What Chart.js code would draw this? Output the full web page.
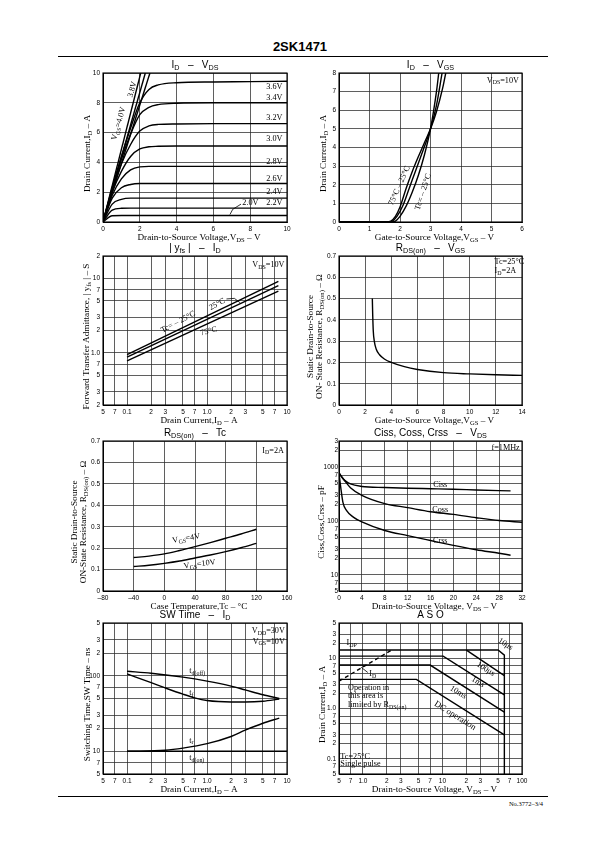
<!DOCTYPE html>
<html><head><meta charset="utf-8"><title>2SK1471</title>
<script src="https://cdn.jsdelivr.net/npm/chart.js@4.4.1/dist/chart.umd.min.js"></script>
<style>
html,body{margin:0;padding:0;background:#fff}
body{position:relative;width:595px;height:842px;overflow:hidden}
canvas{position:absolute}
.hdr{position:absolute;left:0;width:600px;top:39px;text-align:center;font:bold 13px "Liberation Sans",Arial,sans-serif;line-height:16px}
.rule{position:absolute;left:58px;width:490px;background:#000}
.ftr{position:absolute;right:52px;top:799px;font:6.5px "Liberation Serif",serif;line-height:10px}
</style></head><body>
<div class="hdr">2SK1471</div>
<div class="rule" style="top:56px;height:1.4px"></div>
<div class="rule" style="top:796px;height:0.8px"></div>
<div class="ftr">No.3772–3/4</div>
<script>
// ================= DATA =================
// Panel 1 : ID - VDS
const p1VdsGrid = [0, 0.5, 1, 1.5, 2, 2.5, 3, 4, 6, 8, 10];
const p1Id20 = [0, 0.42, 0.44, 0.44, 0.44, 0.44, 0.44, 0.44, 0.44, 0.44, 0.44];
const p1Id22 = [0, 0.8, 0.92, 0.93, 0.93, 0.93, 0.93, 0.93, 0.93, 0.93, 0.93];
const p1Id24 = [0, 1.2, 1.52, 1.6, 1.6, 1.6, 1.6, 1.6, 1.6, 1.6, 1.6];
const p1Id26 = [0, 1.6, 2.3, 2.52, 2.58, 2.58, 2.58, 2.58, 2.58, 2.58, 2.58];
const p1Id28 = [0, 1.8, 2.9, 3.5, 3.7, 3.73, 3.73, 3.73, 3.73, 3.73, 3.73];
const p1Id30 = [0, 2.0, 3.4, 4.4, 4.9, 5.05, 5.08, 5.1, 5.1, 5.1, 5.1];
const p1Id32 = [0, 2.1, 3.9, 5.2, 6.1, 6.45, 6.55, 6.58, 6.6, 6.6, 6.6];
const p1Id34 = [0, 2.2, 4.2, 5.9, 7.2, 7.7, 7.88, 7.97, 8.0, 8.0, 8.0];
const p1Id36 = [0, 2.3, 4.4, 6.3, 8.0, 8.9, 9.2, 9.35, 9.4, 9.42, 9.45];
const p1Vds40 = [0, 2.05], p1Id40 = [0, 10];
const p1Vds38 = [0, 2.3],  p1Id38 = [0, 10];
const p1VdsC  = [0, 2.55], p1IdC  = [0, 10];
const p1XTicks = [0, 2, 4, 6, 8, 10], p1XLabels = ['0','2','4','6','8','10'];
const p1YTicks = [0, 2, 4, 6, 8, 10], p1YLabels = ['0','2','4','6','8','10'];

// Panel 2 : ID - VGS
const p2Vgs75 = [0, 1.55, 1.7, 1.85, 2.0, 2.2, 2.4, 2.6, 2.8, 3.0, 3.2, 3.4, 3.5];
const p2Id75  = [0, 0, 0.05, 0.3, 0.8, 1.8, 2.7, 3.5, 4.25, 5.0, 5.95, 7.2, 8.0];
const p2Vgs25 = [0, 1.6, 1.75, 1.9, 2.1, 2.3, 2.5, 2.7, 2.9, 3.0, 3.2, 3.38];
const p2Id25  = [0, 0, 0.05, 0.3, 0.9, 1.8, 2.7, 3.6, 4.5, 5.0, 6.3, 8.0];
const p2VgsM25 = [0, 1.7, 1.85, 2.0, 2.2, 2.4, 2.6, 2.8, 3.0, 3.1, 3.2, 3.27];
const p2IdM25  = [0, 0, 0.05, 0.3, 0.85, 1.6, 2.5, 3.6, 5.0, 5.95, 7.05, 8.0];
const p2XTicks = [0,1,2,3,4,5,6], p2XLabels = ['0','1','2','3','4','5','6'];
const p2YTicks = [0,1,2,3,4,5,6,7,8], p2YLabels = ['0','1','2','3','4','5','6','7','8'];

// Panel 3 : |yfs| - ID
const p3Id = [0.1, 7.8];
const p3YfsM25 = [0.95, 9.1];
const p3Yfs25  = [0.88, 8.0];
const p3Yfs75  = [0.78, 6.75];
const logIdTicks  = [0.05,0.07,0.1,0.2,0.3,0.5,0.7,1,2,3,5,7,10];
const logIdLabels = ['5','7','0.1','2','3','5','7','1.0','2','3','5','7','10'];
const p3YTicks  = [0.2,0.3,0.5,0.7,1,2,3,5,7,10,20];
const p3YLabels = ['2','3','5','7','1.0','2','3','5','7','10','2'];

// Panel 4 : RDS(on) - VGS
const p4Vgs = [2.55, 2.58, 2.62, 2.7, 2.85, 3.1, 3.5, 4, 5, 6, 8, 10, 12, 14];
const p4Rds = [0.5, 0.42, 0.35, 0.3, 0.262, 0.236, 0.215, 0.2, 0.18, 0.167, 0.152, 0.146, 0.142, 0.139];
const p4XTicks = [0,2,4,6,8,10,12,14], p4XLabels = ['0','2','4','6','8','10','12','14'];
const rTicks = [0,0.1,0.2,0.3,0.4,0.5,0.6,0.7], rLabels = ['0','0.1','0.2','0.3','0.4','0.5','0.6','0.7'];

// Panel 5 : RDS(on) - Tc
const p5Tc = [-40, -20, 0, 20, 40, 60, 80, 100, 120];
const p5R4  = [0.156, 0.163, 0.173, 0.189, 0.207, 0.226, 0.246, 0.266, 0.288];
const p5R10 = [0.114, 0.12, 0.129, 0.14, 0.154, 0.168, 0.184, 0.202, 0.222];
const p5XTicks = [-80,-40,0,40,80,120,160], p5XLabels = ['–80','–40','0','40','80','120','160'];

// Panel 6 : Ciss, Coss, Crss - VDS
const p6VCiss = [0, 0.5, 1, 2, 4, 8, 12, 16, 20, 24, 30];
const p6Ciss  = [760, 640, 560, 480, 432, 412, 400, 392, 384, 372, 357];
const p6VCoss = [0, 0.5, 1, 2, 4, 8, 12, 16, 20, 24, 28, 32];
const p6Coss  = [780, 650, 550, 410, 296, 208, 175, 147, 131, 114, 101, 94];
const p6VCrss = [0, 0.3, 0.7, 1.3, 2.5, 4, 8, 12, 16, 20, 24, 28, 30];
const p6Crss  = [760, 420, 216, 155, 117, 95, 66, 53, 43, 35, 29, 25, 23];
const p6XTicks = [0,4,8,12,16,20,24,28,32], p6XLabels = ['0','4','8','12','16','20','24','28','32'];
const p6YTicks  = [5,7,10,20,30,50,70,100,200,300,500,700,1000,2000,3000];
const p6YLabels = ['5','7','10','2','3','5','7','100','2','3','5','7','1000','2','3'];

// Panel 7 : SW Time - ID
const p7IdOff = [0.1, 0.2, 0.5, 1, 2, 3, 5, 8];
const p7TdOff = [115, 108, 96, 85, 73, 65, 56, 50];
const p7IdF = [0.1, 0.2, 0.3, 0.5, 0.7, 1, 2, 3, 5, 8];
const p7Tf  = [106, 81, 69, 57, 51, 47, 45, 45, 46, 49];
const p7IdR = [0.1, 0.3, 0.5, 1, 2, 3, 5, 8];
const p7Tr  = [10, 10.3, 11, 12.6, 15.7, 19, 23.5, 27.5];
const p7IdOn = [0.1, 10];
const p7TdOn = [10, 10];
const p7YTicks  = [5,7,10,20,30,50,70,100,200,300,500];
const p7YLabels = ['5','7','10','2','3','5','7','100','2','3','5'];

// Panel 8 : ASO
const p8V10us = [0.5, 50, 60, 60],  p8I10us = [14.5, 14.5, 11.5, 0.05];
const p8V100us = [20, 60],          p8I100us = [14.5, 4.5];
const p8V1ms = [0.5, 10.2, 60],     p8I1ms = [11, 11, 1.87];
const p8V10ms = [0.5, 7, 60],       p8I10ms = [7.3, 7.3, 0.85];
const p8VDc = [0.5, 4.7, 60],       p8IDc = [3.8, 3.8, 0.3];
const p8VRds = [0.5, 2.3],          p8IRds = [3.5, 14.5];
const p8XTicks  = [0.5,0.7,1,2,3,5,7,10,20,30,50,70,100];
const p8XLabels = ['5','7','1.0','2','3','5','7','10','2','3','5','7','100'];
const p8YTicks  = [0.05,0.07,0.1,0.2,0.3,0.5,0.7,1,2,3,5,7,10,20,30,50];
const p8YLabels = ['5','7','0.1','2','3','5','7','1.0','2','3','5','7','10','2','3','5'];

// ================= DRAWING =================
const SERIF = '"Liberation Serif","Times New Roman",serif';
const SANS = '"Liberation Sans",Arial,sans-serif';

function parseRich(s){
  const out=[]; const re=/_\{([^}]*)\}/g; let last=0, m;
  while((m=re.exec(s))){ if(m.index>last) out.push({t:s.slice(last,m.index),sub:false}); out.push({t:m[1],sub:true}); last=re.lastIndex; }
  if(last<s.length) out.push({t:s.slice(last),sub:false});
  return out;
}
function drawRich(ctx,s,x,y,o){
  o=o||{}; const size=o.size||8, fam=o.family||SERIF, sub=size*0.72;
  const segs=parseRich(s);
  ctx.save(); ctx.translate(x,y); if(o.rot) ctx.rotate(o.rot*Math.PI/180);
  ctx.textBaseline='middle'; ctx.textAlign='left'; ctx.fillStyle='#000';
  let w=0; segs.forEach(g=>{ctx.font=(g.sub?sub:size)+'px '+fam; g.w=ctx.measureText(g.t).width; w+=g.w;});
  let cx = o.align==='left'?0:(o.align==='right'?-w:-w/2);
  segs.forEach(g=>{ctx.font=(g.sub?sub:size)+'px '+fam; ctx.fillText(g.t,cx,g.sub?size*0.3:0); cx+=g.w;});
  ctx.restore();
}

function panel(p){
  const padL=48,padT=18,padR=16,padB=30;
  const cw=p.W+padL+padR, chh=p.H+padT+padB;
  const cv=document.createElement('canvas');
  cv.width=cw; cv.height=chh;
  Object.assign(cv.style,{left:(p.L-padL)+'px',top:(p.T-padT)+'px',width:cw+'px',height:chh+'px'});
  document.body.appendChild(cv);
  function sc(a,isY){
    return {type:a.type||'linear',min:a.min,max:a.max,
      afterBuildTicks:s=>{s.ticks=a.ticks.map(v=>({value:v}));},
      afterFit:s=>{ if(isY) s.width=padL; else s.height=padB; },
      ticks:{autoSkip:false,maxRotation:0,minRotation:0,padding:(a.pad!=null?a.pad:3),color:'#000',font:{family:SANS,size:6.5},callback:(v,i)=>a.labels[i]},
      grid:{color:'#2a2a2a',lineWidth:0.75,drawTicks:false},
      border:{display:true,color:'#000',width:1}};
  }
  const deco={id:'deco',afterDraw(ch){
    const ctx=ch.ctx,a=ch.chartArea,xs=ch.scales.x,ys=ch.scales.y;
    const X=v=>xs.getPixelForValue(v), Y=v=>ys.getPixelForValue(v);
    ctx.save();
    ctx.strokeStyle='#000'; ctx.lineWidth=1.1;
    ctx.strokeRect(a.left,a.top,a.right-a.left,a.bottom-a.top);
    (p.leaders||[]).forEach(l=>{ctx.beginPath(); ctx.lineWidth=0.8; l.forEach((pt,i)=>{ if(i) ctx.lineTo(X(pt[0]),Y(pt[1])); else ctx.moveTo(X(pt[0]),Y(pt[1])); }); ctx.stroke();});
    (p.notes||[]).forEach(n=>drawRich(ctx,n.text,X(n.x),Y(n.y),{size:n.size||8.2,align:n.align,rot:n.rot,family:n.family||SERIF}));
    const cxm=(a.left+a.right)/2, cym=(a.top+a.bottom)/2;
    drawRich(ctx,p.title,cxm,a.top-8,{size:10,family:SANS});
    drawRich(ctx,p.xTitle,cxm+4,a.bottom+16,{size:9.2,family:SERIF});
    const off=p.yOff||(p.yTitle.length>1?[28,19.5]:[15.5]);
    p.yTitle.forEach((t,i)=>drawRich(ctx,t,a.left-off[i],cym+6,{size:9.2,family:SERIF,rot:-90}));
    ctx.restore();
  }};
  new Chart(cv,{type:'line',
    data:{datasets:p.sets.map(d=>({data:d.x.map((x,i)=>({x:x,y:d.y[i]})),borderColor:'#000',borderWidth:d.w||1.4,borderDash:d.dash||[],pointRadius:0,pointHitRadius:0,fill:false,tension:0,cubicInterpolationMode:d.straight?'default':'monotone'}))},
    options:{responsive:false,animation:false,events:[],
      layout:{padding:{left:0,top:padT,right:padR,bottom:0}},
      plugins:{legend:{display:false},tooltip:{enabled:false}},
      scales:{x:sc(p.xa,false),y:sc(p.ya,true)}},
    plugins:[deco]});
}

const CL=[103,339], CW=[184,183];
const RT=[73,256,441,623], RH=[149,149,150,151];

// Panel 1
panel({L:CL[0],T:RT[0],W:CW[0],H:RH[0],
  xa:{min:0,max:10,ticks:p1XTicks,labels:p1XLabels}, ya:{min:0,max:10,ticks:p1YTicks,labels:p1YLabels},
  sets:[{x:p1VdsGrid,y:p1Id20},{x:p1VdsGrid,y:p1Id22},{x:p1VdsGrid,y:p1Id24},{x:p1VdsGrid,y:p1Id26},{x:p1VdsGrid,y:p1Id28},
        {x:p1VdsGrid,y:p1Id30},{x:p1VdsGrid,y:p1Id32},{x:p1VdsGrid,y:p1Id34},{x:p1VdsGrid,y:p1Id36},
        {x:p1Vds40,y:p1Id40,straight:true},{x:p1Vds38,y:p1Id38,straight:true},{x:p1VdsC,y:p1IdC,straight:true}],
  title:'I_{D}   –   V_{DS}', xTitle:'Drain-to-Source Voltage,V_{DS} – V', yTitle:['Drain Current,I_{D} – A'],
  notes:[{text:'3.6V',x:9.75,y:9.05,align:'right'},{text:'3.4V',x:9.75,y:8.35,align:'right'},{text:'3.2V',x:9.75,y:7.0,align:'right'},
         {text:'3.0V',x:9.75,y:5.55,align:'right'},{text:'2.8V',x:9.75,y:4.05,align:'right'},{text:'2.6V',x:9.75,y:2.9,align:'right'},
         {text:'2.4V',x:9.75,y:2.05,align:'right'},{text:'2.2V',x:9.75,y:1.3,align:'right'},{text:'2.0V',x:8.45,y:1.3,align:'right'},
         {text:'V_{GS}=4.0V',x:0.85,y:6.6,rot:-74},{text:'3.8V',x:1.6,y:8.9,rot:-74}],
  leaders:[[[7.5,1.2],[7.05,0.85],[6.9,0.5]]]});

// Panel 2
panel({L:CL[1],T:RT[0],W:CW[1],H:RH[0],
  xa:{min:0,max:6,ticks:p2XTicks,labels:p2XLabels}, ya:{min:0,max:8,ticks:p2YTicks,labels:p2YLabels},
  sets:[{x:p2Vgs75,y:p2Id75},{x:p2Vgs25,y:p2Id25},{x:p2VgsM25,y:p2IdM25}],
  title:'I_{D}   –   V_{GS}', xTitle:'Gate-to-Source Voltage,V_{GS} – V', yTitle:['Drain Current,I_{D} – A'],
  notes:[{text:'V_{DS}=10V',x:5.9,y:7.6,align:'right'},{text:'75°C – 25°C',x:1.98,y:1.95,rot:-66},{text:'Tc= – 25°C',x:2.76,y:1.62,rot:-72}]});

// Panel 3
panel({L:CL[0],T:RT[1],W:CW[0],H:RH[1],
  xa:{type:'logarithmic',min:0.05,max:10,ticks:logIdTicks,labels:logIdLabels}, ya:{type:'logarithmic',min:0.2,max:20,ticks:p3YTicks,labels:p3YLabels},
  sets:[{x:p3Id,y:p3YfsM25,straight:true},{x:p3Id,y:p3Yfs25,straight:true},{x:p3Id,y:p3Yfs75,straight:true}],
  title:'| y_{fs} |   –   I_{D}', xTitle:'Drain Current,I_{D} – A', yTitle:['Forward Transfer Admittance, | y_{fs} | – S'], yOff:[16.5],
  notes:[{text:'V_{DS}=10V',x:9.3,y:15,align:'right'},{text:'Tc= – 25°C',x:0.435,y:2.6,rot:-28},{text:'25°C',x:1.34,y:4.5,rot:-28},{text:'75°C',x:1.05,y:1.95,rot:-15}],
  leaders:[[[1.75,5.3],[2.2,5.4],[2.6,4.7]]]});

// Panel 4
panel({L:CL[1],T:RT[1],W:CW[1],H:RH[1],
  xa:{min:0,max:14,ticks:p4XTicks,labels:p4XLabels}, ya:{min:0,max:0.7,ticks:rTicks,labels:rLabels},
  sets:[{x:p4Vgs,y:p4Rds}],
  title:'R_{DS(on)}   –   V_{GS}', xTitle:'Gate-to-Source Voltage,V_{GS} – V', yTitle:['Static Drain-to-Source','ON- State Resistance, R_{DS(on)} – Ω'],
  notes:[{text:'Tc=25°C',x:11.9,y:0.672,align:'left'},{text:'I_{D}=2A',x:11.9,y:0.629,align:'left'}]});

// Panel 5
panel({L:CL[0],T:RT[2],W:CW[0],H:RH[2],
  xa:{min:-80,max:160,ticks:p5XTicks,labels:p5XLabels}, ya:{min:0,max:0.7,ticks:rTicks,labels:rLabels},
  sets:[{x:p5Tc,y:p5R4},{x:p5Tc,y:p5R10}],
  title:'R_{DS(on)}   –   Tc', xTitle:'Case Temperature,Tc – °C', yTitle:['Static Drain-to-Source','ON-State Resistance, R_{DS(on)} – Ω'],
  notes:[{text:'I_{D}=2A',x:156,y:0.656,align:'right'},{text:'V_{GS}=4V',x:28.6,y:0.245,rot:-10},{text:'V_{GS}=10V',x:46,y:0.125,rot:-8}]});

// Panel 6
panel({L:CL[1],T:RT[2],W:CW[1],H:RH[2],
  xa:{min:0,max:32,ticks:p6XTicks,labels:p6XLabels}, ya:{type:'logarithmic',min:5,max:3000,ticks:p6YTicks,labels:p6YLabels,pad:1},
  sets:[{x:p6VCiss,y:p6Ciss},{x:p6VCoss,y:p6Coss},{x:p6VCrss,y:p6Crss}],
  title:'Ciss, Coss, Crss   –   V_{DS}', xTitle:'Drain-to-Source Voltage, V_{DS} – V', yTitle:['Ciss,Coss,Crss – pF'], yOff:[17],
  notes:[{text:'f=1MHz',x:31.6,y:2200,align:'right'},{text:'Ciss',x:17.7,y:455},{text:'Coss',x:17.7,y:158},{text:'Crss',x:17.7,y:42}]});

// Panel 7
panel({L:CL[0],T:RT[3],W:CW[0],H:RH[3],
  xa:{type:'logarithmic',min:0.05,max:10,ticks:logIdTicks,labels:logIdLabels}, ya:{type:'logarithmic',min:5,max:500,ticks:p7YTicks,labels:p7YLabels},
  sets:[{x:p7IdOff,y:p7TdOff},{x:p7IdF,y:p7Tf},{x:p7IdR,y:p7Tr},{x:p7IdOn,y:p7TdOn,straight:true}],
  title:'SW Time   –   I_{D}', xTitle:'Drain Current,I_{D} – A', yTitle:['Switching Time,SW Time – ns'],
  notes:[{text:'V_{DD}=30V',x:9.4,y:390,align:'right'},{text:'V_{GS}=10V',x:9.4,y:285,align:'right'},
         {text:'t_{d(off)}',x:0.6,y:115,align:'left'},{text:'t_{f}',x:0.6,y:59,align:'left'},
         {text:'t_{r}',x:0.6,y:13.9,align:'left'},{text:'t_{d(on)}',x:0.6,y:8.1,align:'left'}]});

// Panel 8
panel({L:CL[1],T:RT[3],W:CW[1],H:RH[3],
  xa:{type:'logarithmic',min:0.5,max:100,ticks:p8XTicks,labels:p8XLabels}, ya:{type:'logarithmic',min:0.05,max:50,ticks:p8YTicks,labels:p8YLabels},
  sets:[{x:p8V10us,y:p8I10us,straight:true},{x:p8V100us,y:p8I100us,straight:true},{x:p8V1ms,y:p8I1ms,straight:true},
        {x:p8V10ms,y:p8I10ms,straight:true},{x:p8VDc,y:p8IDc,straight:true},{x:p8VRds,y:p8IRds,straight:true,dash:[4,3]}],
  title:'A S O', xTitle:'Drain-to-Source Voltage, V_{DS} – V', yTitle:['Drain Current,I_{D} – A'], yOff:[16.5],
  notes:[{text:'I_{DP}',x:0.62,y:20,align:'left'},{text:'I_{D}',x:1.2,y:4.9,align:'left'},
         {text:'Operation in',x:0.65,y:2.58,align:'left'},{text:'this area is',x:0.65,y:1.75,align:'left'},
         {text:'limited by R_{DS(on)}',x:0.65,y:1.16,align:'left'},
         {text:'Tc=25°C',x:0.52,y:0.11,align:'left'},{text:'Single pulse',x:0.52,y:0.08,align:'left'},
         {text:'10μs',x:62,y:19,rot:32},{text:'100μs',x:35,y:6.1,rot:32},{text:'1ms',x:28,y:3.35,rot:32},
         {text:'10ms',x:15.8,y:2.1,rot:32},{text:'DC operation',x:14.4,y:0.72,rot:32,size:8.8}],
  leaders:[[[1.15,5.2],[0.95,6.6]]]});
</script>
</body></html>
